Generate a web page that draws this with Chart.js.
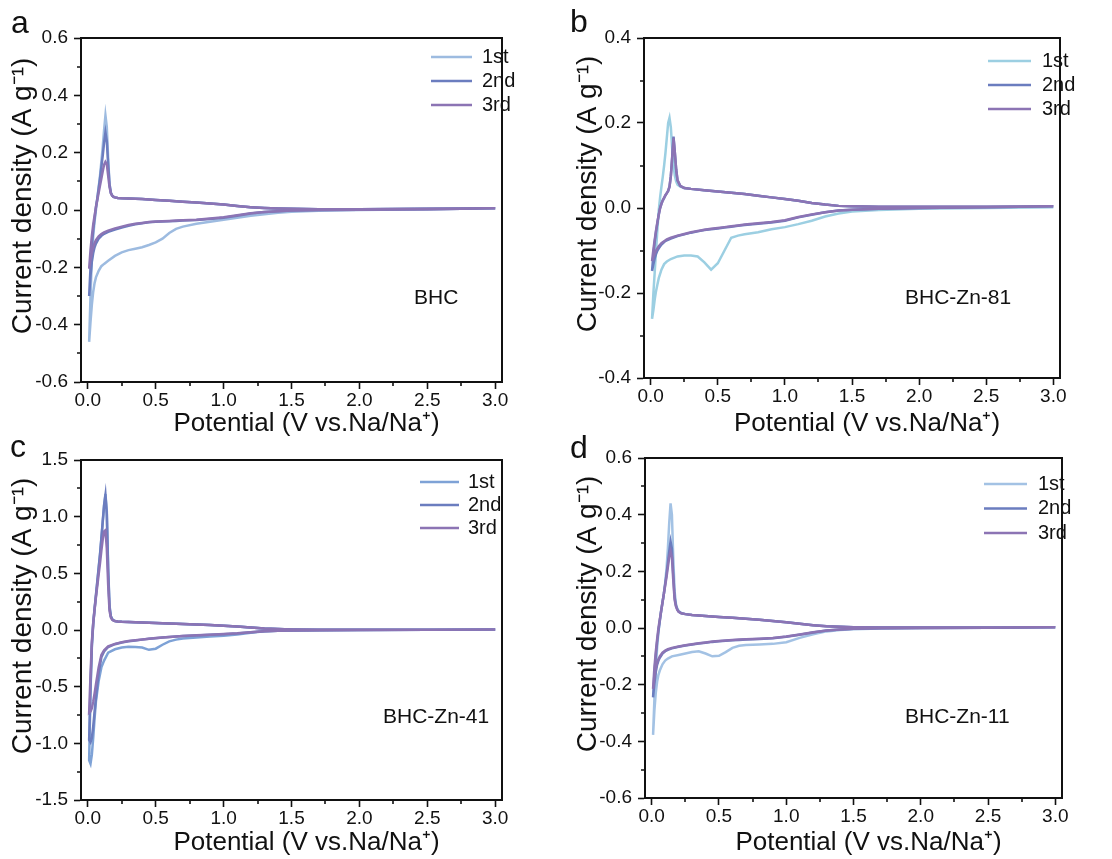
<!DOCTYPE html>
<html>
<head>
<meta charset="utf-8">
<script src="https://cdn.jsdelivr.net/npm/chart.js@4.4.0/dist/chart.umd.min.js"></script>
<style>
  html, body { margin: 0; padding: 0; background: #fff; }
  body { width: 1112px; height: 859px; position: relative; overflow: hidden;
         font-family: "Liberation Sans", Arial, sans-serif; }
  .panel { position: absolute; }
  .tag { position: absolute; font-size: 32px; line-height: 1; color: #111; }
</style>
</head>
<body>
<div class="panel" style="left:0;top:0"><canvas id="chartA" width="550" height="440"></canvas></div>
<div class="panel" style="left:550px;top:0"><canvas id="chartB" width="562" height="440"></canvas></div>
<div class="panel" style="left:0;top:430px"><canvas id="chartC" width="550" height="429"></canvas></div>
<div class="panel" style="left:550px;top:430px"><canvas id="chartD" width="562" height="429"></canvas></div>
<div class="tag" style="left:11px;top:6px">a</div>
<div class="tag" style="left:570px;top:5px">b</div>
<div class="tag" style="left:10px;top:430px">c</div>
<div class="tag" style="left:570px;top:431px">d</div>

<script>
// potentials (V vs Na/Na+) for the cathodic sweep (3.0 -> 0.01) and the anodic sweep (0.01 -> 3.0)
const CATHODIC_V = [3.0, 2.5, 2.0, 1.7, 1.5, 1.4, 1.3, 1.2, 1.1, 1.0, 0.9, 0.8, 0.7, 0.65, 0.6, 0.55, 0.5,
  0.45, 0.4, 0.35, 0.3, 0.25, 0.2, 0.15, 0.12, 0.1, 0.08, 0.06, 0.05, 0.04, 0.03, 0.02, 0.01];
const ANODIC_V = [0.01, 0.02, 0.03, 0.04, 0.05, 0.06, 0.07, 0.08, 0.09, 0.10, 0.11, 0.12, 0.13, 0.14, 0.15,
  0.16, 0.17, 0.18, 0.19, 0.20, 0.22, 0.25, 0.3, 0.4, 0.5, 0.6, 0.7, 0.8, 0.9, 1.0, 1.1, 1.2, 1.3, 1.4, 1.5,
  1.7, 2.0, 2.5, 3.0];

const CYCLE_LABELS = ['1st', '2nd', '3rd'];
const X_TICKS = [0, 0.5, 1.0, 1.5, 2.0, 2.5, 3.0];

// (a) BHC, current density in A/g
const bhcCath1 = [0.006, 0.003, 0.0, -0.003, -0.006, -0.01, -0.015, -0.02, -0.027, -0.034, -0.041, -0.048, -0.058,
  -0.066, -0.08, -0.1, -0.113, -0.122, -0.13, -0.135, -0.14, -0.148, -0.16, -0.177, -0.188, -0.196, -0.212, -0.235,
  -0.255, -0.285, -0.33, -0.39, -0.46];
const bhcCath2 = [0.006, 0.003, 0.001, 0.0, -0.002, -0.004, -0.007, -0.012, -0.02, -0.027, -0.031, -0.035, -0.037,
  -0.038, -0.039, -0.04, -0.041, -0.043, -0.046, -0.05, -0.055, -0.061, -0.068, -0.076, -0.083, -0.09, -0.1, -0.117,
  -0.13, -0.15, -0.18, -0.23, -0.3];
const bhcCath3 = [0.006, 0.003, 0.001, 0.0, -0.002, -0.004, -0.007, -0.011, -0.018, -0.025, -0.03, -0.034, -0.036,
  -0.037, -0.038, -0.039, -0.04, -0.042, -0.045, -0.048, -0.052, -0.058, -0.064, -0.072, -0.078, -0.084, -0.092,
  -0.105, -0.115, -0.13, -0.15, -0.175, -0.205];
const bhcAn1 = [-0.46, -0.3, -0.17, -0.09, -0.04, 0.0, 0.04, 0.08, 0.12, 0.17, 0.22, 0.28, 0.33, 0.29, 0.18, 0.09,
  0.06, 0.05, 0.046, 0.044, 0.042, 0.041, 0.04, 0.038, 0.035, 0.032, 0.029, 0.026, 0.023, 0.019, 0.014, 0.01, 0.007,
  0.005, 0.004, 0.003, 0.003, 0.004, 0.006];
const bhcAn2 = [-0.3, -0.2, -0.12, -0.07, -0.03, 0.01, 0.04, 0.075, 0.11, 0.15, 0.19, 0.235, 0.27, 0.24, 0.16, 0.09,
  0.06, 0.05, 0.046, 0.044, 0.042, 0.041, 0.04, 0.038, 0.035, 0.032, 0.029, 0.026, 0.023, 0.019, 0.014, 0.01, 0.007,
  0.005, 0.004, 0.003, 0.003, 0.004, 0.006];
const bhcAn3 = [-0.205, -0.14, -0.09, -0.05, -0.02, 0.01, 0.035, 0.06, 0.085, 0.11, 0.135, 0.158, 0.168, 0.16, 0.12,
  0.08, 0.058, 0.05, 0.046, 0.044, 0.042, 0.041, 0.04, 0.038, 0.035, 0.032, 0.029, 0.026, 0.023, 0.019, 0.014, 0.01,
  0.007, 0.005, 0.004, 0.003, 0.003, 0.004, 0.006];

// (b) BHC-Zn-81
const zn81Cath1 = [0.002, 0.0, -0.002, -0.005, -0.008, -0.013, -0.02, -0.03, -0.038, -0.045, -0.05, -0.057, -0.062,
  -0.065, -0.07, -0.1, -0.13, -0.145, -0.128, -0.114, -0.112, -0.112, -0.114, -0.12, -0.126, -0.132, -0.145, -0.165,
  -0.18, -0.195, -0.215, -0.24, -0.261];
const zn81Cath2 = [0.004, 0.002, 0.0, -0.002, -0.004, -0.006, -0.01, -0.016, -0.022, -0.03, -0.034, -0.037, -0.04,
  -0.042, -0.044, -0.046, -0.048, -0.05, -0.052, -0.055, -0.058, -0.062, -0.066, -0.072, -0.076, -0.08, -0.086,
  -0.095, -0.1, -0.108, -0.118, -0.132, -0.148];
const zn81Cath3 = [0.004, 0.002, 0.0, -0.002, -0.004, -0.006, -0.01, -0.015, -0.021, -0.029, -0.033, -0.036, -0.039,
  -0.041, -0.043, -0.045, -0.047, -0.049, -0.051, -0.054, -0.057, -0.061, -0.065, -0.07, -0.074, -0.078, -0.083,
  -0.09, -0.095, -0.1, -0.107, -0.115, -0.125];
const zn81An1 = [-0.261, -0.2, -0.15, -0.1, -0.05, -0.005, 0.025, 0.05, 0.074, 0.1, 0.13, 0.165, 0.2, 0.212, 0.19,
  0.14, 0.1, 0.075, 0.062, 0.055, 0.05, 0.047, 0.045, 0.042, 0.039, 0.036, 0.033, 0.029, 0.025, 0.021, 0.017, 0.012,
  0.008, 0.005, 0.004, 0.002, 0.002, 0.002, 0.002];
const zn81An2 = [-0.148, -0.11, -0.08, -0.055, -0.035, -0.016, 0.0, 0.01, 0.018, 0.024, 0.03, 0.035, 0.04, 0.05,
  0.075, 0.12, 0.168, 0.13, 0.09, 0.065, 0.052, 0.047, 0.045, 0.042, 0.039, 0.036, 0.033, 0.029, 0.025, 0.021, 0.017,
  0.012, 0.008, 0.005, 0.004, 0.003, 0.003, 0.003, 0.004];
const zn81An3 = [-0.125, -0.098, -0.074, -0.052, -0.033, -0.015, 0.0, 0.01, 0.018, 0.024, 0.03, 0.035, 0.04, 0.05,
  0.075, 0.118, 0.165, 0.13, 0.09, 0.065, 0.052, 0.047, 0.045, 0.042, 0.039, 0.036, 0.033, 0.029, 0.025, 0.021,
  0.017, 0.012, 0.008, 0.005, 0.004, 0.003, 0.003, 0.003, 0.004];

// (c) BHC-Zn-41
const zn41Cath1 = [0.005, 0.002, 0.0, -0.002, -0.004, -0.007, -0.012, -0.025, -0.04, -0.05, -0.058, -0.066, -0.075,
  -0.085, -0.1, -0.13, -0.165, -0.175, -0.155, -0.15, -0.148, -0.155, -0.17, -0.2, -0.27, -0.33, -0.45, -0.63,
  -0.78, -0.95, -1.1, -1.18, -1.15];
const zn41Cath2 = [0.005, 0.002, 0.0, -0.002, -0.004, -0.006, -0.01, -0.02, -0.03, -0.037, -0.043, -0.048, -0.054,
  -0.058, -0.062, -0.067, -0.072, -0.078, -0.085, -0.092, -0.1, -0.11, -0.125, -0.15, -0.19, -0.24, -0.38, -0.6,
  -0.72, -0.85, -0.95, -0.99, -0.97];
const zn41Cath3 = [0.005, 0.002, 0.0, -0.002, -0.004, -0.006, -0.01, -0.019, -0.029, -0.036, -0.042, -0.047, -0.053,
  -0.057, -0.061, -0.066, -0.071, -0.077, -0.083, -0.09, -0.098, -0.108, -0.122, -0.145, -0.18, -0.22, -0.33, -0.48,
  -0.56, -0.63, -0.69, -0.72, -0.73];
const zn41An1 = [-1.15, -0.55, -0.15, 0.05, 0.18, 0.3, 0.42, 0.54, 0.66, 0.8, 0.95, 1.1, 1.2, 1.05, 0.55, 0.22, 0.12,
  0.095, 0.085, 0.08, 0.075, 0.072, 0.07, 0.066, 0.062, 0.058, 0.054, 0.049, 0.044, 0.038, 0.031, 0.022, 0.013, 0.008,
  0.005, 0.003, 0.002, 0.002, 0.005];
const zn41An2 = [-0.97, -0.5, -0.13, 0.06, 0.19, 0.31, 0.43, 0.55, 0.67, 0.81, 0.96, 1.1, 1.19, 1.02, 0.52, 0.2,
  0.12, 0.095, 0.085, 0.08, 0.075, 0.072, 0.07, 0.066, 0.062, 0.058, 0.054, 0.049, 0.044, 0.038, 0.031, 0.022, 0.013,
  0.008, 0.005, 0.003, 0.002, 0.002, 0.005];
const zn41An3 = [-0.73, -0.4, -0.1, 0.06, 0.18, 0.29, 0.39, 0.49, 0.59, 0.7, 0.8, 0.87, 0.88, 0.72, 0.4, 0.17, 0.11,
  0.09, 0.083, 0.079, 0.075, 0.072, 0.07, 0.066, 0.062, 0.058, 0.054, 0.049, 0.044, 0.038, 0.031, 0.022, 0.013, 0.008,
  0.005, 0.003, 0.002, 0.002, 0.005];

// (d) BHC-Zn-11
const zn11Cath1 = [0.003, 0.001, 0.0, -0.002, -0.004, -0.007, -0.012, -0.022, -0.035, -0.05, -0.056, -0.058, -0.06,
  -0.063, -0.07, -0.085, -0.098, -0.1, -0.09, -0.082, -0.085, -0.09, -0.095, -0.1, -0.108, -0.115, -0.128, -0.15,
  -0.165, -0.19, -0.23, -0.29, -0.377];
const zn11Cath2 = [0.003, 0.001, 0.0, -0.001, -0.003, -0.005, -0.009, -0.016, -0.024, -0.031, -0.036, -0.039, -0.041,
  -0.042, -0.043, -0.045, -0.047, -0.049, -0.052, -0.055, -0.058, -0.062, -0.066, -0.072, -0.077, -0.082, -0.09,
  -0.105, -0.115, -0.13, -0.155, -0.195, -0.245];
const zn11Cath3 = [0.003, 0.001, 0.0, -0.001, -0.003, -0.005, -0.009, -0.015, -0.023, -0.03, -0.035, -0.038, -0.04,
  -0.041, -0.042, -0.044, -0.046, -0.048, -0.051, -0.054, -0.057, -0.061, -0.065, -0.07, -0.075, -0.08, -0.087, -0.1,
  -0.11, -0.122, -0.142, -0.175, -0.215];
const zn11An1 = [-0.377, -0.25, -0.15, -0.07, -0.015, 0.025, 0.06, 0.09, 0.12, 0.16, 0.21, 0.28, 0.37, 0.44, 0.4,
  0.25, 0.13, 0.085, 0.068, 0.06, 0.053, 0.049, 0.046, 0.042, 0.039, 0.036, 0.033, 0.029, 0.025, 0.02, 0.015, 0.01,
  0.006, 0.004, 0.003, 0.002, 0.002, 0.002, 0.003];
const zn11An2 = [-0.245, -0.16, -0.1, -0.05, -0.01, 0.025, 0.06, 0.09, 0.12, 0.155, 0.19, 0.23, 0.27, 0.305, 0.28,
  0.19, 0.11, 0.08, 0.066, 0.058, 0.052, 0.049, 0.046, 0.042, 0.039, 0.036, 0.033, 0.029, 0.025, 0.02, 0.015, 0.01,
  0.006, 0.004, 0.003, 0.002, 0.002, 0.002, 0.003];
const zn11An3 = [-0.215, -0.14, -0.085, -0.04, 0.0, 0.03, 0.06, 0.09, 0.12, 0.15, 0.18, 0.215, 0.25, 0.27, 0.25,
  0.17, 0.1, 0.076, 0.064, 0.057, 0.052, 0.049, 0.046, 0.042, 0.039, 0.036, 0.033, 0.029, 0.025, 0.02, 0.015, 0.01,
  0.006, 0.004, 0.003, 0.002, 0.002, 0.002, 0.003];

const COLOR_2ND = '#6b7dbf';
const COLOR_3RD = '#8c74b4';
const FONT = '"Liberation Sans", Arial, sans-serif';
const X_TITLE = 'Potential (V vs.Na/Na\u207A)';
const Y_TITLE = 'Current density (A g\u207B\u00B9)';
Chart.defaults.font.family = FONT;
Chart.defaults.color = '#111';

// one closed CV loop: cathodic sweep followed by the anodic sweep
function loop(cath, an) {
  const pts = CATHODIC_V.map((v, i) => ({ x: v, y: cath[i] }));
  return pts.concat(ANODIC_V.map((v, i) => ({ x: v, y: an[i] })));
}

// frame, minor ticks, axis titles, inline legend and sample name
const decor = {
  id: 'decor',
  afterDraw(chart, args, o) {
    const { ctx, chartArea: ca, scales } = chart;
    const x = scales.x, y = scales.y;
    ctx.save();
    ctx.strokeStyle = '#111';
    ctx.lineWidth = 1.6;
    ctx.beginPath();
    for (let v = 0.25; v < 3.0; v += 0.5) {
      const px = Math.round(x.getPixelForValue(v));
      ctx.moveTo(px, ca.bottom); ctx.lineTo(px, ca.bottom + 4);
    }
    for (let v = y.min + o.yMinor; v < y.max; v += 2 * o.yMinor) {
      const py = Math.round(y.getPixelForValue(v));
      ctx.moveTo(ca.left, py); ctx.lineTo(ca.left - 4, py);
    }
    ctx.stroke();

    ctx.lineWidth = 2;
    ctx.strokeRect(ca.left, ca.top, ca.right - ca.left, ca.bottom - ca.top);

    ctx.fillStyle = '#111';
    ctx.textBaseline = 'middle';
    ctx.textAlign = 'center';
    ctx.font = '26px ' + FONT;
    ctx.fillText(X_TITLE, (ca.left + ca.right) / 2 + 15, o.xTitleY);
    ctx.save();
    ctx.translate(o.yTitleX, (ca.top + ca.bottom) / 2 - 14);
    ctx.rotate(-Math.PI / 2);
    ctx.font = '28px ' + FONT;
    ctx.fillText(Y_TITLE, 0, 0);
    ctx.restore();

    // legend
    ctx.textAlign = 'left';
    ctx.font = '20px ' + FONT;
    chart.data.datasets.forEach((ds, i) => {
      const ly = o.legY + i * o.legDy;
      ctx.strokeStyle = ds.borderColor;
      ctx.lineWidth = 2.6;
      ctx.beginPath();
      ctx.moveTo(o.legX1, ly); ctx.lineTo(o.legX2, ly);
      ctx.stroke();
      ctx.fillText(ds.label, o.legText, ly);
    });

    ctx.font = '21px ' + FONT;
    ctx.fillText(o.name, o.nameX, o.nameY);
    ctx.restore();
  }
};

function makeChart(id, sets, firstColor, ax) {
  const cols = [firstColor, COLOR_2ND, COLOR_3RD];
  const datasets = sets.map((s, i) => ({
    label: CYCLE_LABELS[i],
    data: loop(s[0], s[1]),
    borderColor: cols[i],
    backgroundColor: cols[i],
    borderWidth: 2.5,
    pointRadius: 0,
    showLine: true,
    tension: 0,
    order: 3 - i
  }));
  return new Chart(document.getElementById(id), {
    type: 'scatter',
    data: { datasets },
    plugins: [decor],
    options: {
      responsive: false,
      animation: false,
      events: [],
      layout: { padding: { left: 0, top: ax.top, right: ax.right, bottom: 0 } },
      plugins: {
        legend: { display: false },
        tooltip: { enabled: false },
        decor: ax.decor
      },
      scales: {
        x: {
          type: 'linear', min: -0.05, max: 3.05,
          afterBuildTicks: s => { s.ticks = X_TICKS.map(v => ({ value: v })); },
          afterFit: s => { s.height = ax.xh; },
          ticks: { font: { size: 19 }, color: '#111', padding: 0, maxRotation: 0, autoSkip: false,
                   callback: v => v.toFixed(1) },
          grid: { drawOnChartArea: false, tickLength: 7, tickWidth: 1.6, tickColor: '#111' },
          border: { display: true, color: '#111', width: 2 }
        },
        y: {
          type: 'linear', min: ax.ymin, max: ax.ymax,
          afterBuildTicks: s => { s.ticks = ax.yticks.map(v => ({ value: v })); },
          afterFit: s => { s.width = ax.yw; },
          ticks: { font: { size: 19 }, color: '#111', padding: 6, autoSkip: false,
                   callback: v => v.toFixed(1) },
          grid: { drawOnChartArea: false, tickLength: 7, tickWidth: 1.6, tickColor: '#111' },
          border: { display: true, color: '#111', width: 2 }
        }
      }
    }
  });
}

const TICKS_06 = [-0.6, -0.4, -0.2, 0.0, 0.2, 0.4, 0.6];
const TICKS_04 = [-0.4, -0.2, 0.0, 0.2, 0.4];
const TICKS_15 = [-1.5, -1.0, -0.5, 0.0, 0.5, 1.0, 1.5];

makeChart('chartA', [[bhcCath1, bhcAn1], [bhcCath2, bhcAn2], [bhcCath3, bhcAn3]], '#9dbbe0', {
  top: 38, right: 48, xh: 58, yw: 81, ymin: -0.6, ymax: 0.6, yticks: TICKS_06,
  decor: { yMinor: 0.1, xTitleY: 424, yTitleX: 23, legX1: 431, legX2: 472, legText: 482, legY: 57, legDy: 24,
           name: 'BHC', nameX: 414, nameY: 298 }
});
makeChart('chartB', [[zn81Cath1, zn81An1], [zn81Cath2, zn81An2], [zn81Cath3, zn81An3]], '#9ccfe2', {
  top: 38, right: 52, xh: 62, yw: 94, ymin: -0.4, ymax: 0.4, yticks: TICKS_04,
  decor: { yMinor: 0.1, xTitleY: 424, yTitleX: 38, legX1: 438, legX2: 481, legText: 492, legY: 61, legDy: 24,
           name: 'BHC-Zn-81', nameX: 355, nameY: 298 }
});
makeChart('chartC', [[zn41Cath1, zn41An1], [zn41Cath2, zn41An2], [zn41Cath3, zn41An3]], '#7ea2d6', {
  top: 30, right: 48, xh: 59, yw: 81, ymin: -1.5, ymax: 1.5, yticks: TICKS_15,
  decor: { yMinor: 0.25, xTitleY: 413, yTitleX: 23, legX1: 420, legX2: 459, legText: 468, legY: 52, legDy: 23,
           name: 'BHC-Zn-41', nameX: 383, nameY: 287 }
});
makeChart('chartD', [[zn11Cath1, zn11An1], [zn11Cath2, zn11An2], [zn11Cath3, zn11An3]], '#a3c2e4', {
  top: 28, right: 50, xh: 61, yw: 95, ymin: -0.6, ymax: 0.6, yticks: TICKS_06,
  decor: { yMinor: 0.1, xTitleY: 413, yTitleX: 38, legX1: 434, legX2: 477, legText: 488, legY: 54, legDy: 24.5,
           name: 'BHC-Zn-11', nameX: 355, nameY: 287 }
});
</script>
</body>
</html>
